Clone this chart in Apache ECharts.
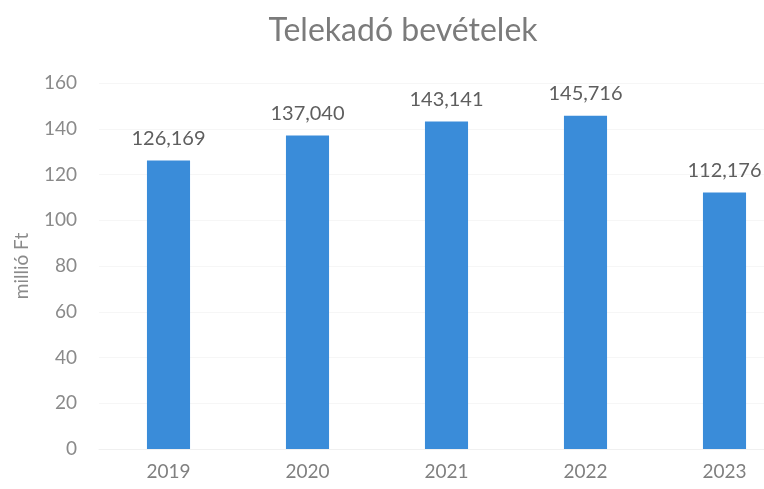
<!DOCTYPE html>
<html><head><meta charset="utf-8">
<script src="https://cdn.jsdelivr.net/npm/echarts@6/dist/echarts.min.js"></script>
<style>html,body{margin:0;padding:0;background:#fff}#c{width:764px;height:489px}</style>
</head><body><div id="c"></div>
<script>
const categories = ['2019','2020','2021','2022','2023'];
const values = [126.169, 137.040, 143.141, 145.716, 112.176];
const yTicks = {min: 0, max: 160, interval: 20};
const titleText = 'Telekadó bevételek';
const yName = 'millió Ft';

const chart = echarts.init(document.getElementById('c'), null, {renderer: 'canvas'});
const font = 'Lato, "Open Sans", sans-serif';
chart.setOption({
  animation: false,
  backgroundColor: '#ffffff',
  title: {
    text: titleText, left: 398, top: 10, textAlign: 'center',
    textStyle: {fontFamily: font, fontSize: 32, fontWeight: 'normal', color: '#7b7b7b'}
  },
  grid: {left: 99, width: 695, top: 83, bottom: 40, containLabel: false, outerBoundsMode: 'none'},
  xAxis: {
    type: 'category', data: categories,
    axisLine: {show: true, lineStyle: {color: '#f0f0f0'}},
    axisTick: {show: false},
    axisLabel: {fontFamily: font, fontSize: 19, color: '#808080', margin: 13}
  },
  yAxis: {
    type: 'value', min: yTicks.min, max: yTicks.max, interval: yTicks.interval,
    name: yName, nameLocation: 'middle', nameGap: 68, nameRotate: 90,
    nameTextStyle: {fontFamily: font, fontSize: 19, color: '#8a8a8a'},
    axisLine: {show: false}, axisTick: {show: false},
    axisLabel: {fontFamily: font, fontSize: 19, color: '#8a8a8a', margin: 22},
    splitLine: {show: true, lineStyle: {color: '#f6f6f6'}}
  },
  series: [{
    type: 'bar', data: values, barWidth: '31%',
    itemStyle: {color: '#3a8cd9'},
    label: {
      show: true, position: 'top', distance: 12,
      fontFamily: font, fontSize: 20, color: '#5e5e5e',
      formatter: p => p.value.toFixed(3).replace('.', ',')
    }
  }]
});
</script></body></html>
